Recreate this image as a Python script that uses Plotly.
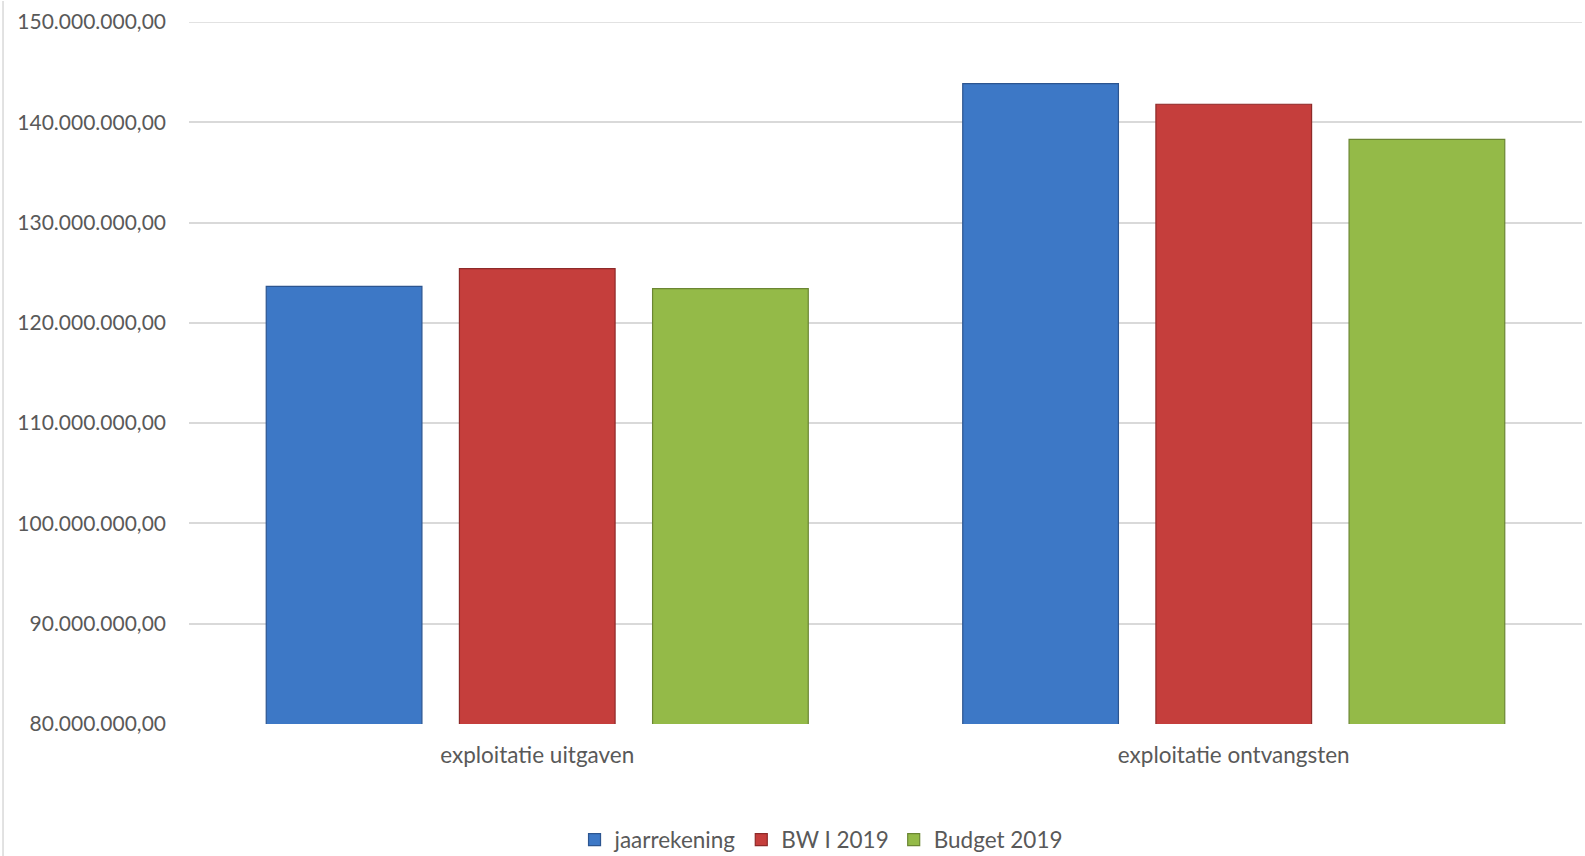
import plotly.graph_objects as go

categories = ["exploitatie uitgaven", "exploitatie ontvangsten"]
series_names = ["jaarrekening", "BW I 2019", "Budget 2019"]
jaarrekening = [123640000, 143850000]
bw_i_2019 = [125400000, 141800000]
budget_2019 = [123410000, 138300000]
tick_values = [80000000, 90000000, 100000000, 110000000, 120000000, 130000000, 140000000, 150000000]

colors = ["#3d78c6", "#c53e3c", "#94ba48"]
line_colors = ["#2c5590", "#8e2a29", "#6b8633"]
values = [jaarrekening, bw_i_2019, budget_2019]

fig = go.Figure()
for name, vals, c, lc in zip(series_names, values, colors, line_colors):
    fig.add_trace(go.Bar(
        x=categories, y=vals, name=name,
        marker=dict(color=c, line=dict(color=lc, width=1.2)),
    ))

font_family = "Lato, 'Open Sans', sans-serif"
fig.update_layout(
    width=1585, height=856,
    margin=dict(l=189, r=3, t=22, b=132),
    paper_bgcolor="white", plot_bgcolor="white",
    barmode="group", bargap=0.168, bargroupgap=0.194,
    separators=",.",
    font=dict(family=font_family, size=21, color="#595959"),
    showlegend=True,
    legend=dict(orientation="h", xref="container", yref="container",
                x=0.518, xanchor="center", y=0.0187, yanchor="middle",
                font=dict(size=22.5, color="#595959"), itemwidth=30, traceorder="normal"),
    xaxis=dict(showgrid=False, showline=False, ticks="", ticklabelstandoff=15,
               automargin=False, tickfont=dict(size=22.5, color="#595959")),
    yaxis=dict(range=[80000000, 150000000], tickvals=tick_values, tickformat=",.2f",
               showgrid=True, gridcolor="#d9d9d9", gridwidth=1.5,
               zeroline=False, showline=False, ticks="", ticklabelstandoff=22,
               automargin=False, tickfont=dict(size=21, color="#595959")),
)
# top gridline (150M) which Plotly omits at the range edge
fig.add_shape(type="line", xref="paper", yref="y", x0=0, x1=1, y0=tick_values[-1], y1=tick_values[-1],
              line=dict(color="#d9d9d9", width=1.5), layer="below")
fig.add_shape(type="line", xref="paper", yref="paper", x0=-0.1335, x1=-0.1335, y0=-0.2, y1=1.03,
              line=dict(color="#d9d9d9", width=1.5))
fig.write_html("out.html", config={"displayModeBar": False},
               post_script="document.body.style.margin='0';document.body.style.overflow='hidden';")
